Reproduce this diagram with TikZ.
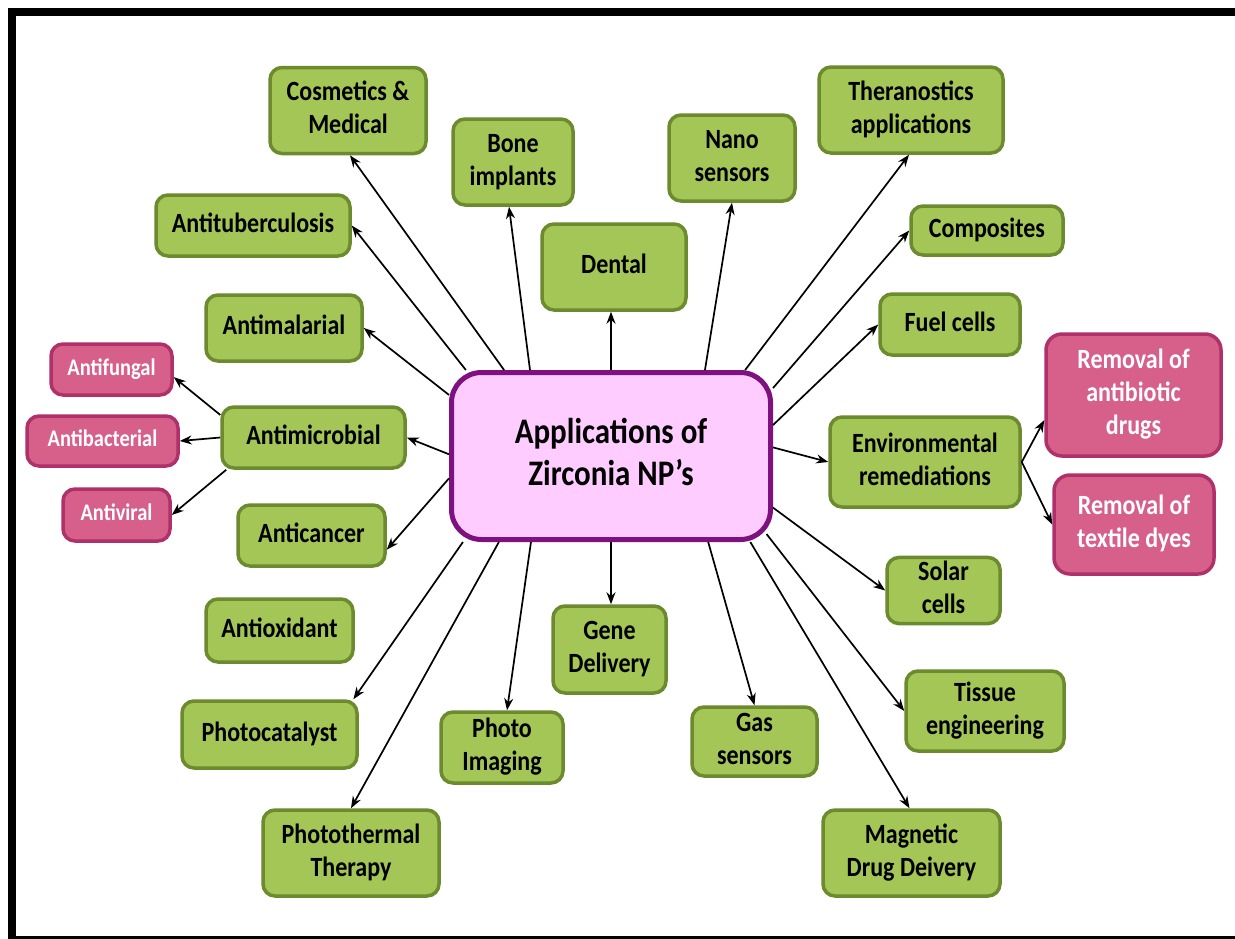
\documentclass[tikz,border=0pt]{standalone}
\usepackage{fontspec}
\setmainfont{Carlito}
\usetikzlibrary{arrows.meta,calc}
\definecolor{gfill}{HTML}{A3C657}
\definecolor{gborder}{HTML}{6C8A2E}
\definecolor{pfill}{HTML}{D6608A}
\definecolor{pborder}{HTML}{B0306A}
\definecolor{hfill}{HTML}{FFCCFF}
\definecolor{hborder}{HTML}{7E1080}
\newcommand\lbl[1]{\scalebox{1}[1.16]{\begin{tabular}{@{}c@{}}#1\end{tabular}}}
\begin{document}
\begin{tikzpicture}[x=1pt,y=-1pt,
  gbox/.style={draw=gborder, fill=gfill, line width=3.5pt, rounded corners=12pt, inner sep=0pt,
    font=\bfseries\fontsize{24}{28.5}\selectfont},
  pbox/.style={draw=pborder, fill=pfill, line width=3.5pt, rounded corners=12pt, inner sep=0pt,
    text=white, font=\bfseries\fontsize{20.5}{25}\selectfont},
  pbig/.style={pbox, rounded corners=16pt, font=\bfseries\fontsize{24}{28.5}\selectfont},
  hub/.style={draw=hborder, fill=hfill, line width=5pt, rounded corners=30pt, inner sep=0pt,
    font=\bfseries\fontsize{31}{36.5}\selectfont},
  arr/.style={-{Stealth[length=12pt,width=9pt]}, line width=1.7pt, black}]
\useasboundingbox (0,0) rectangle (1235,938);
\clip (0,0) rectangle (1235,938);
\fill[white] (0,0) rectangle (1235,938);
\draw[line width=8pt] (12,1000) -- (12,12) -- (1300,12);
\draw[line width=6pt] (12,939) -- (1300,939);

% hub
\node[hub, minimum width=319pt, minimum height=167pt] (c) at (611,456) {\lbl{Applications of\\Zirconia NP’s}};

% green boxes
\node[gbox, minimum width=156pt, minimum height=86pt] (cos) at (348,110.5) {\lbl{Cosmetics \&\\Medical}};
\node[gbox, minimum width=120pt, minimum height=86pt] (bone) at (513,162) {\lbl{Bone\\implants}};
\node[gbox, minimum width=126pt, minimum height=86pt] (nano) at (732,158) {\lbl{Nano\\sensors}};
\node[gbox, minimum width=184pt, minimum height=86pt] (thera) at (911,110) {\lbl{Theranostics\\applications}};
\node[gbox, minimum width=194pt, minimum height=61pt] (antitb) at (253,225.5) {\lbl{Antituberculosis}};
\node[gbox, minimum width=144pt, minimum height=86pt] (dental) at (614,267) {\lbl{Dental}};
\node[gbox, minimum width=152pt, minimum height=49pt] (comp) at (987,230.5) {\lbl{Composites}};
\node[gbox, minimum width=156pt, minimum height=66pt] (antimal) at (284,328) {\lbl{Antimalarial}};
\node[gbox, minimum width=140pt, minimum height=61pt] (fuel) at (950,324.5) {\lbl{Fuel cells}};
\node[gbox, minimum width=183pt, minimum height=61pt] (antimic) at (313.5,437.5) {\lbl{Antimicrobial}};
\node[gbox, minimum width=190pt, minimum height=90pt] (env) at (925,462) {\lbl{Environmental\\remediations}};
\node[gbox, minimum width=147pt, minimum height=61pt] (anticanc) at (311.5,535.5) {\lbl{Anticancer}};
\node[gbox, minimum width=113pt, minimum height=61pt] (solar) at (943.5,590.5) {\lbl{Solar\\cells}};
\node[gbox, minimum width=147pt, minimum height=63pt] (antiox) at (279.5,630.5) {\lbl{Antioxidant}};
\node[gbox, minimum width=113pt, minimum height=87pt] (gene) at (609.5,649.5) {\lbl{Gene\\Delivery}};
\node[gbox, minimum width=158pt, minimum height=80pt] (tissue) at (985,711) {\lbl{Tissue\\engineering}};
\node[gbox, minimum width=175pt, minimum height=67pt] (photocat) at (269.5,734.5) {\lbl{Photocatalyst}};
\node[gbox, minimum width=122pt, minimum height=71pt] (photoim) at (502,747.5) {\lbl{Photo\\Imaging}};
\node[gbox, minimum width=125pt, minimum height=69pt] (gas) at (754.5,741.5) {\lbl{Gas\\sensors}};
\node[gbox, minimum width=176pt, minimum height=86pt] (phototh) at (351,853) {\lbl{Photothermal\\Therapy}};
\node[gbox, minimum width=177pt, minimum height=86pt] (mag) at (911.5,853) {\lbl{Magnetic\\Drug Deivery}};

% pink boxes
\node[pbox, minimum width=121pt, minimum height=51pt] (antifung) at (111.5,369.5) {\lbl{Antifungal}};
\node[pbox, minimum width=151pt, minimum height=50pt] (antibac) at (102.5,441) {\lbl{Antibacterial}};
\node[pbox, minimum width=107pt, minimum height=52pt] (antivir) at (116.5,515) {\lbl{Antiviral}};
\node[pbig, minimum width=175pt, minimum height=122pt] (rab) at (1133.5,395) {\lbl{Removal of\\antibiotic\\drugs}};
\node[pbig, minimum width=160pt, minimum height=99pt] (rtd) at (1134,524.5) {\lbl{Removal of\\textile dyes}};

% arrows from hub: top side
\draw[arr] ($(c.north west)!0.052!(c.north east)$) -- (antitb.east);
\draw[arr] ($(c.north west)!0.17!(c.north east)$) -- ($(cos.south)+(2,0)$);
\draw[arr] ($(c.north west)!0.25!(c.north east)$) -- ($(bone.south)+(-4,0)$);
\draw[arr] (c.north) -- (c.north |- dental.south);
\draw[arr] ($(c.north west)!0.79!(c.north east)$) -- (nano.south);
\draw[arr] ($(c.north west)!0.914!(c.north east)$) -- ($(thera.south)+(-2,0)$);
% left side
\draw[arr] ($(c.north west)!0.145!(c.south west)$) -- (antimal.east);
\draw[arr] ($(c.north west)!0.49!(c.south west)$) -- (antimic.east);
\draw[arr] ($(c.north west)!0.63!(c.south west)$) -- ($(anticanc.north east)!0.72!(anticanc.south east)$);
% right side
\draw[arr] ($(c.north east)!0.105!(c.south east)$) -- (comp.west);
\draw[arr] ($(c.north east)!0.32!(c.south east)$) -- (fuel.west);
\draw[arr] ($(c.north east)!0.45!(c.south east)$) -- (env.west);
\draw[arr] ($(c.north east)!0.80!(c.south east)$) -- (solar.west);
% bottom side
\draw[arr] ($(c.south west)!0.043!(c.south east)$) -- ($(photocat.north west)!0.97!(photocat.north east)$);
\draw[arr] ($(c.south west)!0.154!(c.south east)$) -- (phototh.north);
\draw[arr] ($(c.south west)!0.253!(c.south east)$) -- ($(photoim.north west)!0.54!(photoim.north east)$);
\draw[arr] (c.south) -- (c.south |- gene.north);
\draw[arr] ($(c.south west)!0.80!(c.south east)$) -- (gas.north);
\draw[arr] ($(c.south west)!0.93!(c.south east)$) -- ($(mag.north)+(-2,0)$);
\draw[arr] ($(c.south west)!0.98!(c.south east)+(0,-8)$) -- (tissue.west);
% sub-branches
\draw[arr] ($(antimic.north west)!0.15!(antimic.south west)$) -- ($(antifung.north east)!0.64!(antifung.south east)$);
\draw[arr] (antimic.west) -- (antibac.east);
\draw[arr] ($(antimic.south west)+(6,0)$) -- (antivir.east);
\draw[arr] (env.east) -- ($(rab.north west)!0.7!(rab.south west)$);
\draw[arr] (env.east) -- (rtd.west);
\end{tikzpicture}
\end{document}
